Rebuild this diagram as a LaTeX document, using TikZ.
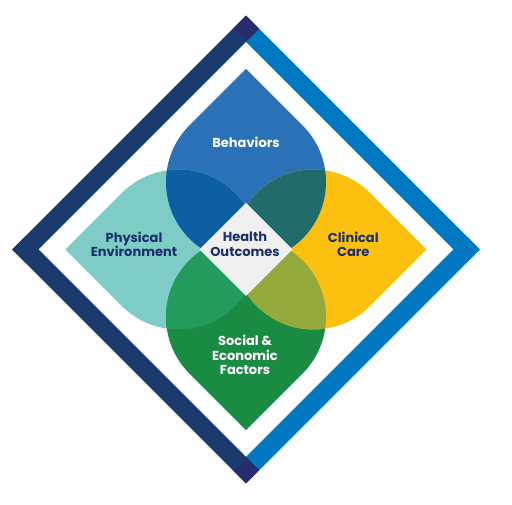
\documentclass[tikz,border=0pt]{standalone}
\usepackage{fontspec}
\setmainfont{Poppins}
\definecolor{framenavy}{HTML}{1B3A6E}
\definecolor{framecorner}{HTML}{272C6C}
\definecolor{frameblue}{HTML}{0078C1}
\definecolor{behav}{HTML}{2B71B7}
\definecolor{phys}{HTML}{7DCCC5}
\definecolor{clin}{HTML}{FCC00F}
\definecolor{soc}{HTML}{1A8B43}
\definecolor{bpcol}{HTML}{0D5EA2}
\definecolor{bccol}{HTML}{216C6A}
\definecolor{pscol}{HTML}{229B5C}
\definecolor{cscol}{HTML}{93A93B}
\definecolor{centercol}{HTML}{F0F0F0}
\definecolor{navytext}{HTML}{1C2F6C}
\tikzset{
  petal/.style={insert path={(0,180.6) -- (-56.57,124.07) arc[start angle=135,end angle=405,radius=80] -- cycle}},
  lbl/.style={font=\bfseries\fontsize{13}{14.7}\selectfont, align=center, inner sep=0pt}
}
\begin{document}
\begin{tikzpicture}[x=1pt,y=1pt]
\useasboundingbox (-246,-255.5) rectangle (266,249.5);
\fill[white] (-246,-255.5) rectangle (266,249.5);
% frame
\fill[framenavy] (0,233.8) -- (-233.8,0) -- (-220.65,-13.15) -- (13.15,220.65) -- cycle;
\fill[framenavy] (0,-233.8) -- (-233.8,0) -- (-220.65,13.15) -- (13.15,-220.65) -- cycle;
\fill[frameblue] (0,233.8) -- (233.8,0) -- (220.65,-13.15) -- (-13.15,220.65) -- cycle;
\fill[frameblue] (0,-233.8) -- (233.8,0) -- (220.65,13.15) -- (-13.15,-220.65) -- cycle;
\fill[framecorner] (0,233.8) -- (13.15,220.65) -- (0,207.5) -- (-13.15,220.65) -- cycle;
\fill[framecorner] (0,-233.8) -- (13.15,-220.65) -- (0,-207.5) -- (-13.15,-220.65) -- cycle;
% petals
\fill[behav, petal];
\fill[phys, rotate=90, petal];
\fill[soc, rotate=180, petal];
\fill[clin, rotate=-90, petal];
% overlaps
\begin{scope}\clip[petal]; \fill[bpcol, rotate=90, petal];\end{scope}
\begin{scope}\clip[petal]; \fill[bccol, rotate=-90, petal];\end{scope}
\begin{scope}\clip[rotate=90, petal]; \fill[pscol, rotate=180, petal];\end{scope}
\begin{scope}\clip[rotate=-90, petal]; \fill[cscol, rotate=180, petal];\end{scope}
% center
\fill[centercol] (0,46.5) -- (-46.5,0) -- (0,-46.5) -- (46.5,0) -- cycle;
% labels
\node[lbl, text=white] (behaviors) at (0,106.7) {Behaviors};
\node[lbl, text=navytext] (physical) at (-112,5.2) {Physical\\Environment};
\node[lbl, text=navytext] (health) at (-1,5.6) {Health\\Outcomes};
\node[lbl, text=navytext] (clinical) at (107.3,5.3) {Clinical\\Care};
\node[lbl, text=white] (social) at (-1,-105.5) {Social \&\\Economic\\Factors};
\end{tikzpicture}
\end{document}
